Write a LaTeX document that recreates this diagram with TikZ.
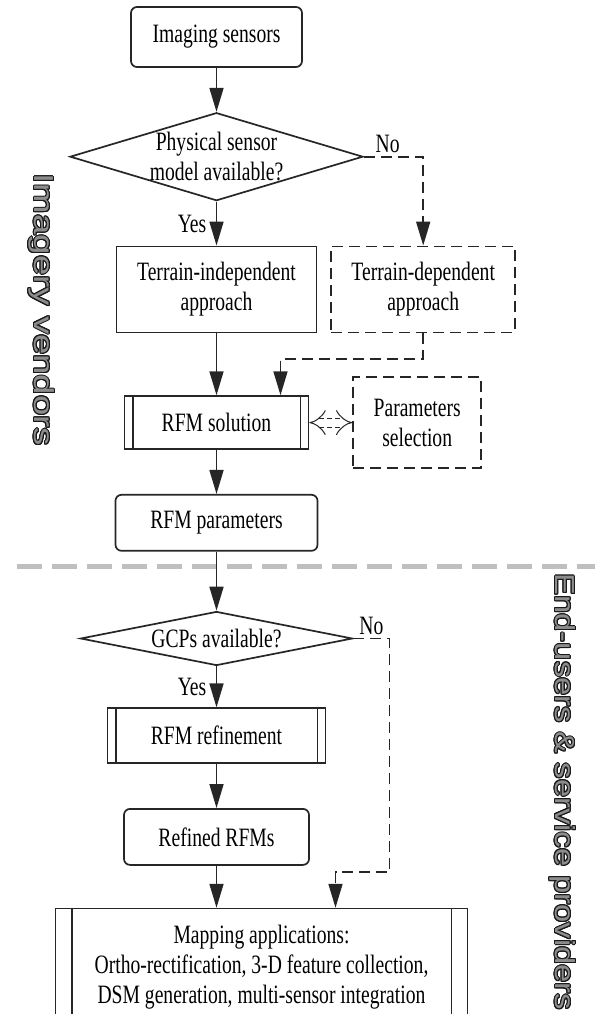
\documentclass[tikz,border=0pt]{standalone}
\usepackage{fontspec}
\usepackage{xcolor}
\usepackage{tikz}
\usepackage{contour}
\setmainfont[FakeStretch=0.74]{Liberation Serif}
\newfontfamily\sidefont[FakeStretch=1.33]{Liberation Sans}
\newfontfamily\sidefontb[FakeStretch=1.19]{Liberation Sans}
\contourlength{1pt}
\usetikzlibrary{shapes.geometric,positioning,calc,arrows.meta}

\begin{document}
\begin{tikzpicture}[x=1pt, y=1pt, node distance=44pt,
    font=\fontsize{26.5pt}{30pt}\selectfont,
    >={Triangle[length=24pt,width=14pt]},
    edgeline/.style={line width=1.7pt, draw=black!85},
    box/.style={rectangle, edgeline, align=center, inner sep=2pt},
    rbox/.style={box, rounded corners=6pt},
    dbox/.style={box, dash pattern=on 11pt off 6pt},
    decision/.style={diamond, edgeline, inner sep=0pt},
    flow/.style={edgeline, ->},
    dflow/.style={flow, dash pattern=on 11pt off 6pt},
    side/.style={rotate=-90, text=black!45}]
    \useasboundingbox (0,0) rectangle (595,-1014);

    % vendor / user split
    \draw[line width=5pt, black!25, dash pattern=on 25pt off 10pt] (17,-566) -- (595,-566);

    \node[rbox, minimum width=171pt, minimum height=60pt] (img) at (216.5,-37) {Imaging sensors};
    \node[decision, minimum width=293pt, minimum height=88pt, below=of img,
        label={[align=center]center:Physical sensor\\model available?}] (d1) {};
    \node[box, minimum width=200pt, minimum height=86pt, below=of d1] (indep) {Terrain-independent\\approach};
    \node[dbox, minimum width=184pt, minimum height=86pt, right=13pt of indep] (dep) {Terrain-dependent\\approach};
    \node[box, minimum width=184pt, minimum height=53pt, below=62pt of indep] (sol) {RFM solution};
    \node[dbox, minimum width=128pt, minimum height=91pt, right=43pt of sol] (sel) {Parameters\\selection};
    \node[rbox, minimum width=202pt, minimum height=56pt, below=of sol] (par) {RFM parameters};
    \node[decision, minimum width=272pt, minimum height=54pt, below=59pt of par,
        label={center:GCPs available?}] (d2) {};
    \node[box, minimum width=218pt, minimum height=55pt, below=41pt of d2] (ref) {RFM refinement};
    \node[rbox, minimum width=185pt, minimum height=56pt, below=of ref] (rfm) {Refined RFMs};
    \node[box, minimum width=412pt, minimum height=118pt, below=42pt of rfm, xshift=45pt] (map)
        {Mapping applications:\\Ortho-rectification, 3-D feature collection,\\DSM generation, multi-sensor integration};

    % side bars of the process boxes
    \foreach \n/\d in {sol/9pt, ref/9pt, map/17pt} {
        \draw[edgeline] ([xshift=\d]\n.north west) -- ([xshift=\d]\n.south west)
                        ([xshift=-\d]\n.north east) -- ([xshift=-\d]\n.south east);
    }

    \node[side, font=\sidefont\fontsize{27.5pt}{30pt}\selectfont] (vend) at (41,-310)
        {\contour{black!90}{Imagery vendors}};
    \node[side, font=\sidefontb\fontsize{27.5pt}{30pt}\selectfont] (users) at (562,-792)
        {\contour{black!90}{End-users \& service providers}};

    \draw[flow] (img) -- (d1);
    \draw[flow] (d1) -- node[left=6pt] {Yes} (indep);
    \draw[dflow] (d1.east) -| node[pos=0.2, above] {No} (dep.north);
    \draw[flow] (indep) -- (sol);
    \draw[dflow] (dep.south) -- ++(0,-26) -| ([xshift=64pt]sol.north);
    \draw[line width=1pt, black!85, dash pattern=on 5pt off 3pt, double, double distance=8pt,
        {Implies}-{Implies}] (sol.east) -- (sel.west);
    \draw[flow] (sol) -- (par);
    \draw[flow] (par) -- (d2);
    \draw[flow] (d2) -- node[left=6pt] {Yes} (ref);
    \draw[dflow] (d2.east) -- node[above] {No} ++(36,0)
        |- ([xshift=74pt, yshift=36pt]map.north) -- ([xshift=74pt]map.north);
    \draw[flow] (ref) -- (rfm);
    \draw[flow] (rfm.south) -- (rfm.south |- map.north);
\end{tikzpicture}
\end{document}
